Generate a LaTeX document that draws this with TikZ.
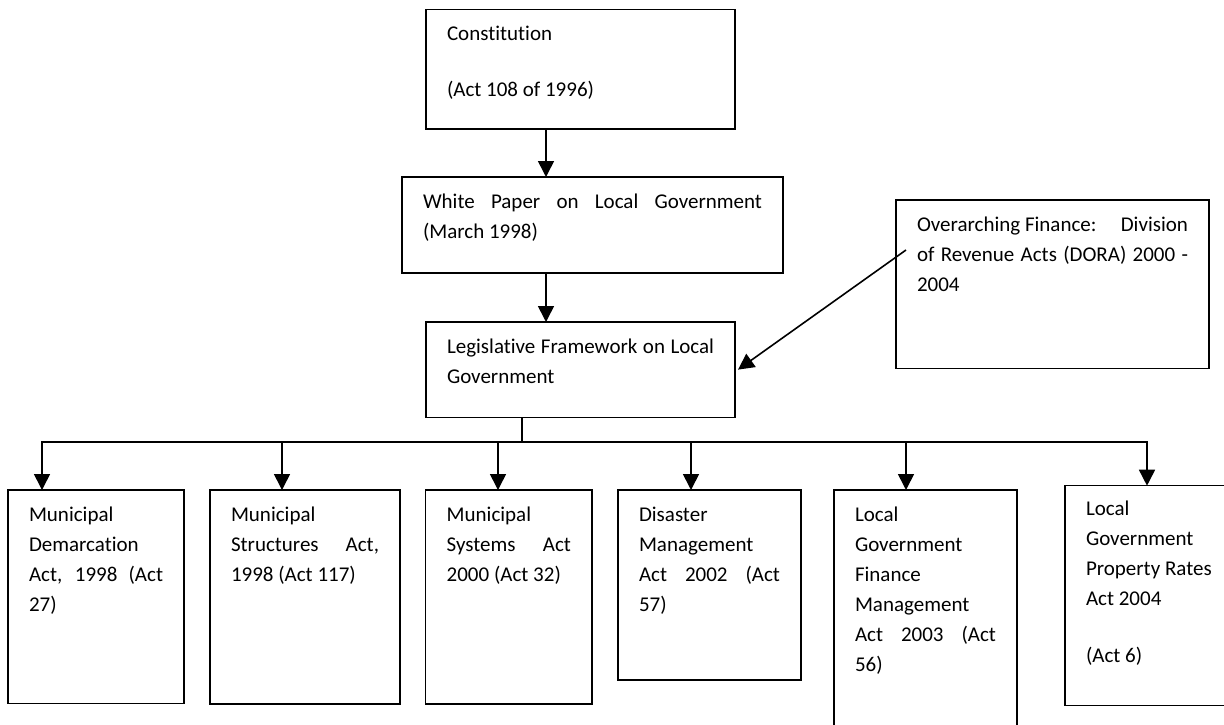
\documentclass[tikz,border=0pt]{standalone}
\usepackage{fontspec}
\setmainfont[Ligatures=NoCommon]{Carlito}
\usetikzlibrary{arrows.meta}
\newcommand\firstln{\rule{0pt}{31.5pt}}
\newcommand\jline[2]{\makebox[#1][s]{#2}}
\begin{document}
\begin{tikzpicture}[x=1pt,y=-1pt,
  box/.style={draw, line width=1.5pt, inner sep=0pt, outer sep=0pt, anchor=north west},
  txt/.style={inner sep=0pt, outer sep=0pt, anchor=north west, align=left, font=\fontsize{21pt}{30pt}\selectfont},
  arr/.style={line width=1.6pt, -{Triangle[width=16pt,length=16pt]}},
  ln/.style={line width=1.6pt, line cap=rect}]
\useasboundingbox (0,0) rectangle (1224,724);
\clip (0,0) rectangle (1224,724);
\fill[white] (0,0) rectangle (1224,724);

% boxes
\node[box, minimum width=309pt, minimum height=119.7pt] (const) at (426,9.3) {};
\node[box, minimum width=381pt, minimum height=96pt] (wpaper) at (402,177) {};
\node[box, minimum width=309pt, minimum height=95.3pt] (legis) at (426,322) {};
\node[box, minimum width=313pt, minimum height=168.3pt] (over) at (896,200) {};
\node[box, minimum width=176pt, minimum height=213.5pt] (b1) at (8,490) {};
\node[box, minimum width=190pt, minimum height=214pt] (b2) at (210,490) {};
\node[box, minimum width=166.3pt, minimum height=214pt] (b3) at (425.7,490) {};
\node[box, minimum width=183pt, minimum height=190pt] (b4) at (618,490) {};
\node[box, minimum width=183pt, minimum height=250pt] (b5) at (834,490) {};
\node[box, minimum width=175pt, minimum height=220pt] (b6) at (1065,485.7) {};

% texts
\node[txt] (const-t) at ([xshift=21pt]const.north west) {\firstln Constitution\\[26pt](Act 108 of 1996)};
\node[txt] (wpaper-t) at ([xshift=21pt]wpaper.north west) {\firstln\jline{339pt}{White Paper on Local Government}\\(March 1998)};
\node[txt] (legis-t) at ([xshift=21pt]legis.north west) {\firstln\jline{267pt}{Legislative Framework on Local}\\Government};
\node[txt] (over-t) at ([xshift=21pt]over.north west) {\firstln\hbox to 271pt{Overarching Finance:\hfill Division}\\\jline{271pt}{of Revenue Acts (DORA) 2000 -}\\2004};
\node[txt] (b1-t) at ([xshift=21pt]b1.north west) {\firstln Municipal\\Demarcation\\\jline{134pt}{Act, 1998 (Act}\\27)};
\node[txt] (b2-t) at ([xshift=21pt]b2.north west) {\firstln Municipal\\\jline{148pt}{Structures Act,}\\1998 (Act 117)};
\node[txt] (b3-t) at ([xshift=21pt]b3.north west) {\firstln Municipal\\\jline{124.3pt}{Systems Act}\\2000 (Act 32)};
\node[txt] (b4-t) at ([xshift=21pt]b4.north west) {\firstln Disaster\\Management\\\jline{141pt}{Act 2002 (Act}\\57)};
\node[txt] (b5-t) at ([xshift=21pt]b5.north west) {\firstln Local\\Government\\Finance\\Management\\\jline{141pt}{Act 2003 (Act}\\56)};
\node[txt] (b6-t) at ([xshift=21pt]b6.north west) {\rule{0pt}{30pt}Local\\Government\\Property Rates\\Act 2004\\[27pt](Act 6)};

% connectors
\coordinate (c1) at ([xshift=-34.5pt]const.south);
\coordinate (w2) at ([xshift=-46.5pt]wpaper.south);
\coordinate (c3) at ([xshift=-58.5pt]legis.south);
\coordinate (busL) at (42,442);
\coordinate (busR) at (1147,442);
\coordinate (a2) at ([xshift=-23pt]b2.north);
\coordinate (a3) at ([xshift=-10.85pt]b3.north);
\coordinate (a4) at ([xshift=-18.5pt]b4.north);
\coordinate (a5) at ([xshift=-19.5pt]b5.north);
\coordinate (ov) at ([shift={(10pt,34.15pt)}]over.west);
\coordinate (le) at ([xshift=3pt]legis.east);

\draw[arr] (c1) -- (c1 |- wpaper.north);
\draw[arr] (w2) -- (w2 |- legis.north);
\draw[ln] (c3) -- (c3 |- busL);
\draw[ln] (busL) -- (busR);
\draw[arr] (busL) -- (busL |- b1.north);
\draw[arr] (a2 |- busL) -- (a2);
\draw[arr] (a3 |- busL) -- (a3);
\draw[arr] (a4 |- busL) -- (a4);
\draw[arr] (a5 |- busL) -- (a5);
\draw[arr] (busR) -- (busR |- b6.north);
\draw[arr] (ov) -- (le);
\end{tikzpicture}
\end{document}
